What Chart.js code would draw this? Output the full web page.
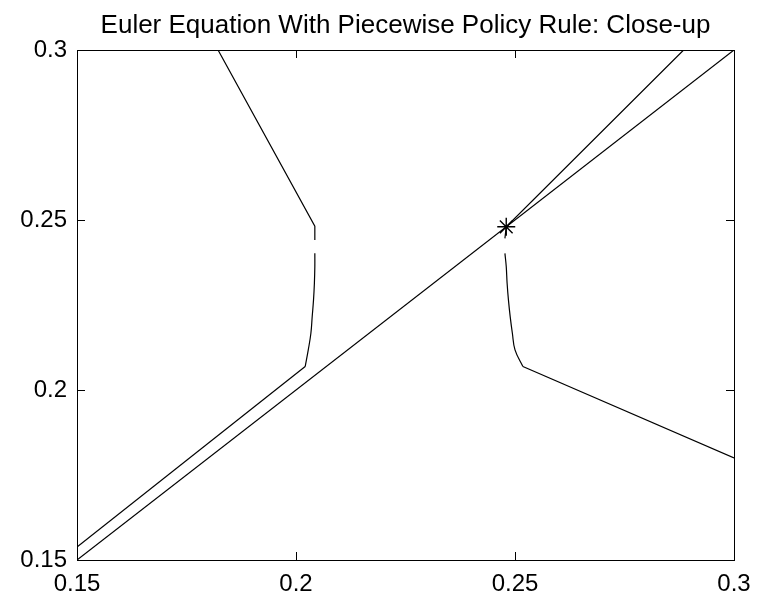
<!DOCTYPE html>
<html>
<head>
<meta charset="utf-8">
<script src="https://cdn.jsdelivr.net/npm/chart.js@4"></script>
<style>
  body { margin: 0; background: #fff; }
  #wrap { width: 770px; height: 600px; }
</style>
</head>
<body>
<div id="wrap"><canvas id="eulerChart" width="770" height="600"></canvas></div>
<script>
// tick values for both axes
const xTicks = [0.15, 0.2, 0.25, 0.3];
const yTicks = [0.15, 0.2, 0.25, 0.3];

// 45 degree line
const diagX = [0.15, 0.3];
const diagY = [0.15, 0.3];

// left branch of the Euler equation: upper straight piece, curved piece, lower straight piece
const leftTopX = [0.1822, 0.2043, 0.2043];
const leftTopY = [0.3, 0.2482, 0.2441];
const leftCurveX = [0.2043, 0.2043, 0.2042, 0.2040, 0.2037, 0.2034, 0.2028, 0.2021];
const leftCurveY = [0.2402, 0.2363, 0.2314, 0.2265, 0.2216, 0.2167, 0.2118, 0.2069];
const leftLowX = [0.2021, 0.15];
const leftLowY = [0.2069, 0.1538];

// right branch
const rightTopX = [0.2885, 0.248, 0.2477];
const rightTopY = [0.3, 0.248, 0.2446];
const rightCurveX = [0.2477, 0.2480, 0.2482, 0.2485, 0.2489, 0.2494, 0.2500, 0.2518];
const rightCurveY = [0.2402, 0.2363, 0.2314, 0.2265, 0.2216, 0.2167, 0.2118, 0.2069];
const rightLowX = [0.2518, 0.3];
const rightLowY = [0.2069, 0.18];

// steady state
const steadyX = [0.248];
const steadyY = [0.248];

const toPoints = (xs, ys) => xs.map((x, i) => ({ x: x, y: ys[i] }));

// box round the plot with ticks pointing inward (matlab style)
const boxPlugin = {
  id: 'box',
  afterDatasetsDraw(chart) {
    const { ctx, chartArea: a, scales } = chart;
    const len = 8;
    ctx.save();
    ctx.strokeStyle = '#000';
    ctx.lineWidth = 1;
    ctx.strokeRect(Math.round(a.left) + 0.5, Math.round(a.top) + 0.5,
      Math.round(a.right - a.left), Math.round(a.bottom - a.top));
    ctx.beginPath();
    xTicks.forEach(v => {
      const px = Math.round(scales.x.getPixelForValue(v)) + 0.5;
      ctx.moveTo(px, a.bottom); ctx.lineTo(px, a.bottom - len);
      ctx.moveTo(px, a.top); ctx.lineTo(px, a.top + len);
    });
    yTicks.forEach(v => {
      const py = Math.round(scales.y.getPixelForValue(v)) + 0.5;
      ctx.moveTo(a.left, py); ctx.lineTo(a.left + len, py);
      ctx.moveTo(a.right, py); ctx.lineTo(a.right - len, py);
    });
    ctx.stroke();
    ctx.restore();
  }
};

// straight pieces and smooth pieces
const line = (xs, ys, tension) => ({
  data: toPoints(xs, ys),
  showLine: true,
  borderColor: '#000',
  borderWidth: 1.2,
  pointRadius: 0,
  tension: tension || 0
});

const fontFamily = '"Liberation Sans", Arial, Helvetica, sans-serif';

new Chart(document.getElementById('eulerChart').getContext('2d'), {
  type: 'scatter',
  data: {
    datasets: [
      line(diagX, diagY),
      line(leftTopX, leftTopY),
      line(leftCurveX, leftCurveY, 0.4),
      line(leftLowX, leftLowY),
      line(rightTopX, rightTopY),
      line(rightCurveX, rightCurveY, 0.4),
      line(rightLowX, rightLowY),
      {
        data: toPoints(steadyX, steadyY),
        pointStyle: 'star',
        pointRadius: 9,
        borderColor: '#000',
        borderWidth: 1.4,
        backgroundColor: '#000'
      }
    ]
  },
  options: {
    responsive: false,
    animation: false,
    layout: { padding: { left: 0, right: 36, top: 0, bottom: 0 } },
    plugins: {
      legend: { display: false },
      tooltip: { enabled: false },
      title: {
        display: true,
        text: 'Euler Equation With Piecewise Policy Rule: Close-up',
        color: '#000',
        fullSize: false,
        font: { family: fontFamily, size: 26, weight: 'normal', lineHeight: 1.2 },
        padding: { top: 10, bottom: 8.8 }
      }
    },
    scales: {
      x: {
        type: 'linear',
        min: 0.15,
        max: 0.3,
        afterBuildTicks: s => { s.ticks = xTicks.map(v => ({ value: v })); },
        afterFit: s => { s.height = 40; },
        grid: { display: false, drawTicks: false },
        border: { display: false },
        ticks: {
          color: '#000',
          padding: 9.5,
          maxRotation: 0,
          autoSkip: false,
          font: { family: fontFamily, size: 24 },
          callback: v => String(+v.toFixed(2))
        }
      },
      y: {
        type: 'linear',
        min: 0.15,
        max: 0.3,
        afterBuildTicks: s => { s.ticks = yTicks.map(v => ({ value: v })); },
        afterFit: s => { s.width = 77; },
        grid: { display: false, drawTicks: false },
        border: { display: false },
        ticks: {
          color: '#000',
          padding: 10,
          autoSkip: false,
          font: { family: fontFamily, size: 24 },
          callback: v => String(+v.toFixed(2))
        }
      }
    }
  },
  plugins: [boxPlugin]
});
</script>
</body>
</html>
